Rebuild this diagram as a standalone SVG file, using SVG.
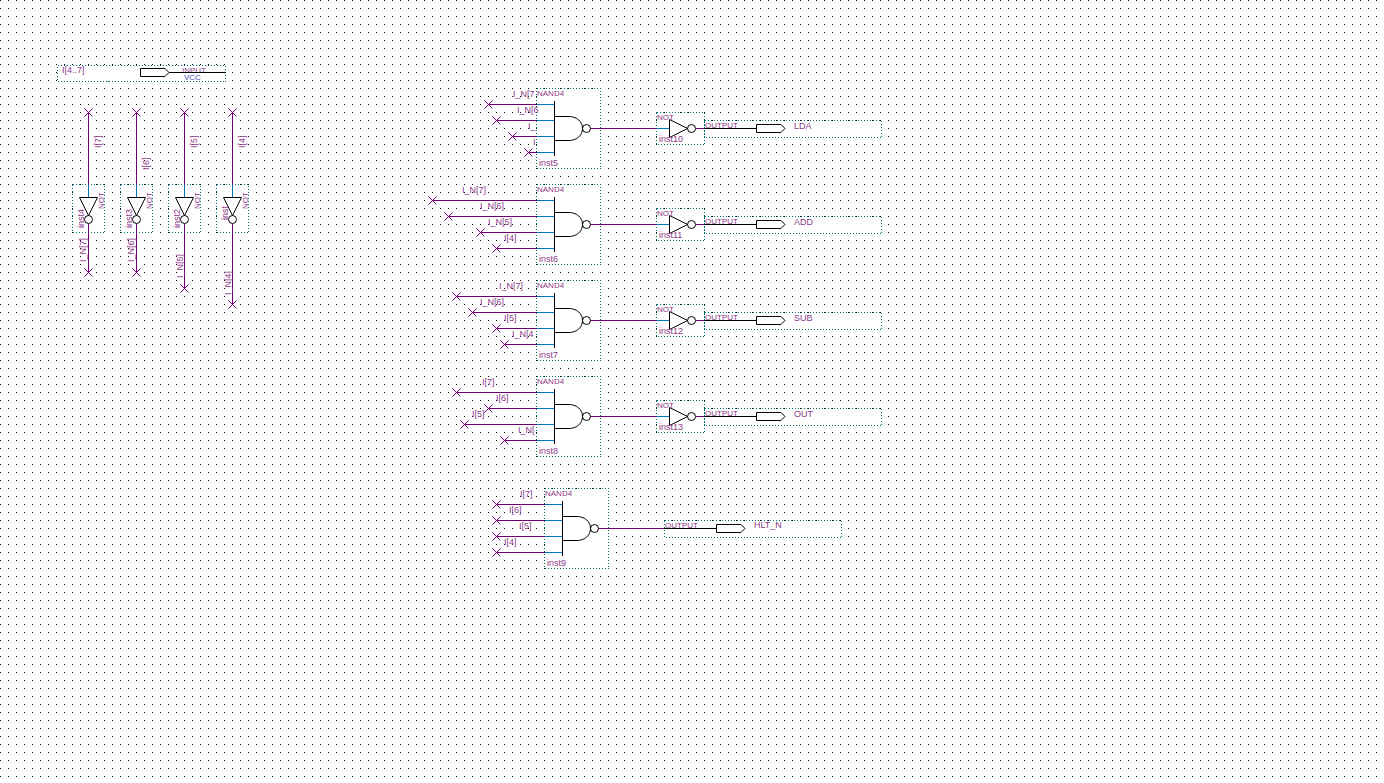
<svg xmlns="http://www.w3.org/2000/svg" width="1384" height="783" viewBox="0 0 1384 783">
<style>
text{font-family:"Liberation Sans",Arial,sans-serif;font-size:9px;fill:#8a3a8a}
text.s{font-size:8px}
.box{fill:#fff;stroke:#006868;stroke-width:1;stroke-dasharray:1 2;shape-rendering:crispEdges}
.w{fill:none;stroke:#700070;stroke-width:1}
.b{fill:none;stroke:#0078c0;stroke-width:1}
.k{fill:none;stroke:#000;stroke-width:1}
.kw{fill:#fff;stroke:#000;stroke-width:1}
text.vcc{fill:#4848c0}
</style>
<defs>
<pattern id="grid" width="8" height="8" patternUnits="userSpaceOnUse"><rect width="1" height="1" fill="#000"/></pattern>
<g id="nand">
<path class="b" d="M1 16.500H18.500M1 32.500H18.500M1 48.500H18.500M1 64.500H18.500"/>
<path class="k" d="M18.500 13V68M18.500 28.500H33C40 28.500 46.500 33 46.500 40.500C46.500 48 40 52.500 33 52.500H18.500"/>
<circle class="k" cx="50.500" cy="40.500" r="4"/>
</g>
<g id="not">
<path class="b" d="M1 16.500H13.500"/>
<path class="k" d="M13.500 7.500V25.500L31.500 16.500Z"/>
<circle class="k" cx="35.500" cy="16.500" r="4"/>
</g>
<g id="vnot">
<path class="b" d="M16.500 1V13.500"/>
<path class="k" d="M7.500 13.500H25.500L16.500 31.500Z"/>
<circle class="k" cx="16.500" cy="35.500" r="4"/>
</g>
<polygon id="pin" class="kw" points="0.500,-4 25,-4 29,0 25,4 0.500,4"/>
<path id="x" class="w" d="M-4 -4L4 4M-4 4L4 -4"/>
</defs>
<rect width="1384" height="783" fill="#fff"/>
<rect width="1384" height="783" fill="url(#grid)"/>

<g id="input-pin">
<rect class="box" x="57.500" y="65.500" width="168" height="16"/>
<text x="62" y="73">I[4..7]</text>
<text class="s" x="182" y="73">INPUT</text>
<text class="s vcc" x="184" y="79.500">VCC</text>
<use href="#pin" x="140" y="72.500"/>
</g>

<g id="inst4"><rect class="box" x="72.500" y="184.500" width="32" height="48"/><use href="#vnot" x="72" y="184"/>
<text transform="translate(83.500,228) rotate(-90)">inst4</text><text class="s" transform="translate(104,209) rotate(-90)">NOT</text></g>
<g id="inst3"><rect class="box" x="120.500" y="184.500" width="32" height="48"/><use href="#vnot" x="120" y="184"/>
<text transform="translate(131.500,228) rotate(-90)">inst3</text><text class="s" transform="translate(152,209) rotate(-90)">NOT</text></g>
<g id="inst2"><rect class="box" x="168.500" y="184.500" width="32" height="48"/><use href="#vnot" x="168" y="184"/>
<text transform="translate(179.500,228) rotate(-90)">inst2</text><text class="s" transform="translate(200,209) rotate(-90)">NOT</text></g>
<g id="inst"><rect class="box" x="216.500" y="184.500" width="32" height="48"/><use href="#vnot" x="216" y="184"/>
<text transform="translate(227.500,220) rotate(-90)">inst</text><text class="s" transform="translate(248,209) rotate(-90)">NOT</text></g>

<g id="inst5"><rect class="box" x="536.500" y="88.500" width="64" height="80"/><use href="#nand" x="536" y="88"/>
<text class="s" x="537" y="96">NAND4</text><text x="539" y="166">inst5</text></g>
<g id="inst6"><rect class="box" x="536.500" y="184.500" width="64" height="80"/><use href="#nand" x="536" y="184"/>
<text class="s" x="537" y="192">NAND4</text><text x="539" y="262">inst6</text></g>
<g id="inst7"><rect class="box" x="536.500" y="280.500" width="64" height="80"/><use href="#nand" x="536" y="280"/>
<text class="s" x="537" y="288">NAND4</text><text x="539" y="358">inst7</text></g>
<g id="inst8"><rect class="box" x="536.500" y="376.500" width="64" height="80"/><use href="#nand" x="536" y="376"/>
<text class="s" x="537" y="384">NAND4</text><text x="539" y="454">inst8</text></g>
<g id="inst9"><rect class="box" x="544.500" y="488.500" width="64" height="80"/><use href="#nand" x="544" y="488"/>
<text class="s" x="545" y="496">NAND4</text><text x="547" y="566">inst9</text></g>

<g id="inst10"><rect class="box" x="656.500" y="112.500" width="48" height="32"/><use href="#not" x="656" y="112"/>
<text class="s" x="657" y="120">NOT</text><text x="659" y="142">inst10</text></g>
<g id="inst11"><rect class="box" x="656.500" y="208.500" width="48" height="32"/><use href="#not" x="656" y="208"/>
<text class="s" x="657" y="216">NOT</text><text x="659" y="238">inst11</text></g>
<g id="inst12"><rect class="box" x="656.500" y="304.500" width="48" height="32"/><use href="#not" x="656" y="304"/>
<text class="s" x="657" y="312">NOT</text><text x="659" y="334">inst12</text></g>
<g id="inst13"><rect class="box" x="656.500" y="400.500" width="48" height="32"/><use href="#not" x="656" y="400"/>
<text class="s" x="657" y="408">NOT</text><text x="659" y="430">inst13</text></g>

<g id="out-lda"><rect class="box" x="704.500" y="120.500" width="177" height="17"/><text class="s" x="705" y="128">OUTPUT</text><text x="794" y="129">LDA</text></g>
<g id="out-add"><rect class="box" x="704.500" y="216.500" width="177" height="17"/><text class="s" x="705" y="224">OUTPUT</text><text x="794" y="225">ADD</text></g>
<g id="out-sub"><rect class="box" x="704.500" y="312.500" width="177" height="17"/><text class="s" x="705" y="320">OUTPUT</text><text x="794" y="321">SUB</text></g>
<g id="out-out"><rect class="box" x="704.500" y="408.500" width="177" height="17"/><text class="s" x="705" y="416">OUTPUT</text><text x="794" y="417">OUT</text></g>
<g id="out-hlt"><rect class="box" x="664.500" y="520.500" width="177" height="17"/><text class="s" x="665" y="528">OUTPUT</text><text x="754" y="528">HLT_N</text></g>

<g id="connectors">
<path class="k" d="M169 72.500H225.500"/>
<path class="w" d="M88.500 112.500V184.500M88.500 223.500V272.500M136.500 112.500V184.500M136.500 223.500V272.500M184.500 112.500V184.500M184.500 223.500V288.500M232.500 112.500V184.500M232.500 223.500V304.500"/>
<g>
<use href="#x" x="88.500" y="112.500"/><use href="#x" x="136.500" y="112.500"/><use href="#x" x="184.500" y="112.500"/><use href="#x" x="232.500" y="112.500"/>
<use href="#x" x="88.500" y="272.500"/><use href="#x" x="136.500" y="272.500"/><use href="#x" x="184.500" y="288.500"/><use href="#x" x="232.500" y="304.500"/>
</g>
<path class="w" d="M488.500 104.500H536.500M496.500 120.500H536.500M512.500 136.500H536.500M528.500 152.500H536.500"/>
<path class="w" d="M432.500 200.500H536.500M448.500 216.500H536.500M480.500 232.500H536.500M496.500 248.500H536.500"/>
<path class="w" d="M456.500 296.500H536.500M472.500 312.500H536.500M496.500 328.500H536.500M504.500 344.500H536.500"/>
<path class="w" d="M456.500 392.500H536.500M488.500 408.500H536.500M464.500 424.500H536.500M504.500 440.500H536.500"/>
<path class="w" d="M496.500 504.500H544.500M496.500 520.500H544.500M496.500 536.500H544.500M496.500 552.500H544.500"/>
<g>
<use href="#x" x="488.500" y="104.500"/><use href="#x" x="496.500" y="120.500"/><use href="#x" x="512.500" y="136.500"/><use href="#x" x="528.500" y="152.500"/>
<use href="#x" x="432.500" y="200.500"/><use href="#x" x="448.500" y="216.500"/><use href="#x" x="480.500" y="232.500"/><use href="#x" x="496.500" y="248.500"/>
<use href="#x" x="456.500" y="296.500"/><use href="#x" x="472.500" y="312.500"/><use href="#x" x="496.500" y="328.500"/><use href="#x" x="504.500" y="344.500"/>
<use href="#x" x="456.500" y="392.500"/><use href="#x" x="488.500" y="408.500"/><use href="#x" x="464.500" y="424.500"/><use href="#x" x="504.500" y="440.500"/>
<use href="#x" x="496.500" y="504.500"/><use href="#x" x="496.500" y="520.500"/><use href="#x" x="496.500" y="536.500"/><use href="#x" x="496.500" y="552.500"/>
</g>
<path class="w" d="M590.500 128.500H656.500M590.500 224.500H656.500M590.500 320.500H656.500M590.500 416.500H656.500M598.500 528.500H664.500"/>
<path class="w" d="M695.500 128.500H704.500M695.500 224.500H704.500M695.500 320.500H704.500M695.500 416.500H704.500"/>
<path class="k" d="M704.500 128.500H756.500M704.500 224.500H756.500M704.500 320.500H756.500M704.500 416.500H756.500M664.500 528.500H716.500"/>
</g>
<g id="pins">
<use href="#pin" x="756" y="128.500"/><use href="#pin" x="756" y="224.500"/><use href="#pin" x="756" y="320.500"/><use href="#pin" x="756" y="416.500"/><use href="#pin" x="716" y="528.500"/>
</g>
<g id="wire-labels">
<text transform="translate(100.500,148) rotate(-90)">I[7]</text>
<text transform="translate(148.500,170) rotate(-90)">I[6]</text>
<text transform="translate(196.500,148) rotate(-90)">I[5]</text>
<text transform="translate(244.500,148) rotate(-90)">I[4]</text>
<text transform="translate(86,262) rotate(-90)">I_N[7]</text>
<text transform="translate(134,262) rotate(-90)">I_N[6]</text>
<text transform="translate(182.500,278) rotate(-90)">I_N[5]</text>
<text transform="translate(230.500,295) rotate(-90)">I_N[4]</text>
<text x="513" y="97">I_N[7</text><text x="517" y="113">I_N[6</text><text x="528" y="129">I_</text><text x="533" y="145">I</text>
<text x="462" y="193">I_N[7]</text><text x="480" y="209">I_N[6]</text><text x="488" y="225">I_N[5]</text><text x="504" y="241">I[4]</text>
<text x="499" y="289">I_N[7]</text><text x="480" y="305">I_N[6]</text><text x="504" y="321">I[5]</text><text x="512" y="337">I_N[4</text>
<text x="482" y="385">I[7]</text><text x="496" y="401">I[6]</text><text x="472" y="417">I[5]</text><text x="518" y="433">I_N[</text>
<text x="520" y="497">I[7]</text><text x="509" y="513">I[6]</text><text x="519" y="529">I[5]</text><text x="504" y="545">I[4]</text>
</g>
</svg>
